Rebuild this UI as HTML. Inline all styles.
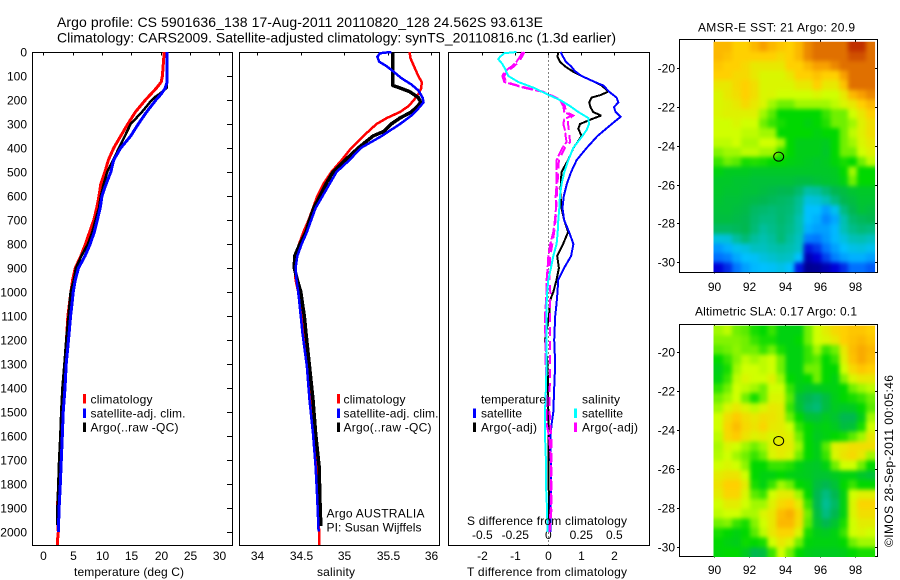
<!DOCTYPE html>
<html>
<head>
<meta charset="utf-8">
<title>Argo profile</title>
<style>
html,body{margin:0;padding:0;background:#fff;}
svg{display:block;}
text{font-family:"Liberation Sans",sans-serif;font-size:12px;fill:#000;}
.ttl{font-size:14px;}
</style>
</head>
<body>
<svg id="fig" xmlns="http://www.w3.org/2000/svg" width="900" height="580" viewBox="0 0 900 580">
<defs>
<filter id="mapSmooth" filterUnits="userSpaceOnUse" x="690" y="0" width="210" height="580" color-interpolation-filters="sRGB"><feGaussianBlur stdDeviation="2"/></filter>
</defs>
<rect width="900" height="580" fill="#fff"/>
<text class="ttl" x="57" y="27" textLength="486" lengthAdjust="spacing">Argo profile: CS 5901636_138 17-Aug-2011 20110820_128 24.562S 93.613E</text>
<text class="ttl" x="57" y="42.5" textLength="559" lengthAdjust="spacing">Climatology: CARS2009. Satellite-adjusted climatology: synTS_20110816.nc (1.3d earlier)</text>
<text x="74" y="576" textLength="110" lengthAdjust="spacing">temperature (deg C)</text>
<text x="317" y="576" textLength="38" lengthAdjust="spacing">salinity</text>
<text x="467" y="576" textLength="160" lengthAdjust="spacing">T difference from climatology</text>
<text x="698" y="31.5" textLength="157" lengthAdjust="spacing">AMSR-E SST: 21  Argo: 20.9</text>
<text x="695" y="315.5" textLength="162" lengthAdjust="spacing">Altimetric SLA: 0.17  Argo: 0.1</text>
<text transform="translate(893,547) rotate(-90)" textLength="172" lengthAdjust="spacing">©IMOS 28-Sep-2011 00:05:46</text>
<g id="layer"></g>
<g>
<rect x="83" y="394" width="3" height="9.5" fill="#ff0000"/>
<rect x="83" y="408.5" width="3" height="9.5" fill="#0000ff"/>
<rect x="83" y="422.5" width="3" height="9.5" fill="#000"/>
<text x="90.5" y="403.5" textLength="62" lengthAdjust="spacing">climatology</text>
<text x="90.5" y="417.5" textLength="95" lengthAdjust="spacing">satellite-adj. clim.</text>
<text x="90.5" y="431.5" textLength="88" lengthAdjust="spacing">Argo(..raw -QC)</text>
</g>
<g>
<rect x="337" y="394" width="3" height="9.5" fill="#ff0000"/>
<rect x="337" y="408.5" width="3" height="9.5" fill="#0000ff"/>
<rect x="337" y="422.5" width="3" height="9.5" fill="#000"/>
<text x="343.5" y="403.5" textLength="62" lengthAdjust="spacing">climatology</text>
<text x="343.5" y="417.5" textLength="95" lengthAdjust="spacing">satellite-adj. clim.</text>
<text x="343.5" y="431.5" textLength="88" lengthAdjust="spacing">Argo(..raw -QC)</text>
<text x="326.5" y="517.5" textLength="98" lengthAdjust="spacing">Argo AUSTRALIA</text>
<text x="326.5" y="531.5" textLength="95" lengthAdjust="spacing">PI: Susan Wijffels</text>
</g>
<g>
<text x="481" y="403.5" textLength="65" lengthAdjust="spacing">temperature</text>
<rect x="473" y="408.5" width="3" height="9.5" fill="#0000ff"/>
<text x="481" y="417.5" textLength="41" lengthAdjust="spacing">satellite</text>
<rect x="473" y="422.5" width="3" height="9.5" fill="#000"/>
<text x="481" y="431.5" textLength="56" lengthAdjust="spacing">Argo(-adj)</text>
<text x="582" y="403.5" textLength="38" lengthAdjust="spacing">salinity</text>
<rect x="574" y="408.5" width="3" height="9.5" fill="#00ffff"/>
<text x="582" y="417.5" textLength="41" lengthAdjust="spacing">satellite</text>
<rect x="574" y="422.5" width="3" height="9.5" fill="#ff00ff"/>
<text x="582" y="431.5" textLength="56" lengthAdjust="spacing">Argo(-adj)</text>
<text x="467" y="525" textLength="160" lengthAdjust="spacing">S difference from climatology</text>
</g>
</svg>
<script>
// ---------- profile data (depth in metres) ----------
const tempClimDepth = [0,100,125,150,200,250,300,350,400,450,500,550,600,650,700,750,800,850,900,950,1000,1100,1500,1600,1700,1850,1900,2000,2040,2055];
const tempClim = [20.6,20.3,20.1,19.3,17.4,15.7,14.4,13.2,12,11.1,10.5,9.8,9.5,9.1,8.6,7.9,7.2,6.4,5.45,5,4.7,4.2,3.2,3.05,2.85,2.5,2.4,2.55,2.4,2.4];
const tempSatDepth = [0,100,125,150,175,200,250,300,350,400,450,500,550,600,650,700,750,800,850,900,950,1000,1050,1100,1200,1300,1400,1500,1600,1700,1800,1900,2000];
const tempSat = [21.1,21.1,21.1,20.8,20.1,19.2,17.6,16.2,14.9,13.2,12,11.5,10.7,10,9.7,9.2,8.7,8,7.1,6,5.45,5.1,4.9,4.66,4.3,3.9,3.7,3.4,3.24,3.07,2.9,2.7,2.55];
const tempArgoDepth = [0,150,175,190,200,250,300,350,400,450,500,550,600,650,700,750,800,850,900,950,1000,1100,1200,1300,1400,1500,1600,1700,1800,1900,1970];
const tempArgo = [21,21,19.8,18.9,18.5,16.8,14.9,13.9,12.9,11.9,10.9,10.3,9.8,9.5,8.9,8.35,7.6,6.5,5.55,5.2,4.66,4.3,3.9,3.6,3.25,3.05,2.9,2.7,2.55,2.4,2.4];

const salClimDepth = [0,25,50,100,125,150,175,200,225,250,275,300,350,400,450,500,550,600,650,700,750,800,850,900,950,1000,1050,1172,1311,1450,1589,1727,1866,1998,2055];
const salClim = [35.75,35.76,35.79,35.85,35.89,35.885,35.85,35.8,35.74,35.64,35.49,35.37,35.22,35.08,34.97,34.85,34.76,34.69,34.64,34.59,34.53,34.48,34.44,34.43,34.44,34.47,34.5,34.53,34.58,34.61,34.645,34.68,34.7,34.71,34.71];
const salSatDepth = [0,5,20,40,60,80,110,135,160,190,210,240,265,300,350,400,450,500,550,600,650,700,750,800,850,900,950,1000,1033,1172,1311,1450,1589,1727,1866,1998];
const salSat = [35.54,35.41,35.38,35.4,35.49,35.56,35.66,35.77,35.85,35.9,35.91,35.84,35.77,35.64,35.43,35.19,35.06,34.91,34.83,34.75,34.67,34.62,34.57,34.51,34.46,34.44,34.45,34.47,34.48,34.52,34.57,34.6,34.64,34.67,34.69,34.705];
const salArgoDepth = [0,130,140,150,165,190,210,230,250,275,300,330,350,400,450,500,550,600,650,700,750,800,850,900,950,1000,1050,1100,1172,1311,1450,1589,1727,1866,1975];
const salArgo = [35.555,35.555,35.56,35.64,35.75,35.85,35.88,35.83,35.77,35.64,35.54,35.46,35.33,35.16,35.01,34.87,34.79,34.72,34.65,34.6,34.56,34.49,34.43,34.425,34.46,34.5,34.52,34.54,34.56,34.6,34.64,34.67,34.71,34.72,34.73];

const dTSatDepth = [0,20,40,60,80,100,125,140,165,190,210,230,250,270,300,350,400,450,500,550,600,650,700,750,800,850,900,950,1000,1050,1100,1200,1300,1400,1500,1550,1600,1800,2000];
const dTSat = [.37,.45,.53,.69,.81,1.01,1.41,1.67,1.84,2.07,2.12,1.99,2.04,2.19,1.92,1.49,1.16,.86,.69,.56,.47,.43,.48,.63,.76,.69,.48,.3,.28,.25,.21,.18,.21,.18,.15,.1,.07,.08,.06];
const dTArgoDepth = [0,20,40,60,80,100,125,140,165,180,190,210,230,250,265,280,300,320,350,400,450,500,550,600,650,700,750,800,850,900,950,1000,1033,1100,1200,1300,1500,2000];
const dTArgo = [.3,.28,.35,.51,.73,1.01,1.41,1.62,1.82,1.57,1.31,1.24,1.28,1.36,1.6,1.31,.96,.91,1.01,.76,.6,.4,.38,.37,.4,.48,.6,.45,.27,.32,.25,.15,.06,.02,-.1,-.02,0,.02];
const dSSatDepth = [0,5,20,30,50,70,100,125,150,175,200,225,250,275,300,325,350,400,450,500,550,600,650,700,750,800,850,900,950,1000,1050,1100,1300,1400,1500,1600,1700,1800,1900,2000];
const dSSat = [-.24,-.333,-.366,-.379,-.348,-.328,-.303,-.227,-.106,-.013,.088,.164,.227,.303,.308,.29,.258,.189,.152,.121,.101,.088,.083,.076,.071,.063,.038,.02,0,-.008,-.013,-.013,-.013,-.018,-.025,-.025,-.018,-.018,-.01,-.005];
const dSArgoDepth = [0,20,40,60,80,100,125,140,150,165,180,200,225,250,265,280,300,325,350,375,400,450,500,550,600,650,700,750,800,850,900,950,1000,1100,1300,1500,1550,1600,1700,1800,1900,2000];
const dSArgoA = [-.197,-.215,-.24,-.278,-.328,-.348,-.333,-.24,-.177,-.05,.013,.088,.114,.121,.177,.121,.114,.126,.131,.139,.106,.063,.063,.063,.056,.058,.05,.038,.015,0,-.005,-.013,-.013,-.025,-.02,-.013,-.013,.005,.02,.02,.02,0];
const dSArgoB = [-.18,-.2,-.22,-.26,-.31,-.335,-.32,-.23,-.16,-.04,.02,.095,.125,.135,.19,.15,.15,.155,.16,.165,.125,.08,.075,.07,.065,.06,.055,.045,.03,.015,.01,.01,.015,.012,.012,.01,.015,.022,.025,.025,.025,.01];

// ---------- tick labels ----------
const depthTicks = [0,100,200,300,400,500,600,700,800,900,1000,1100,1200,1300,1400,1500,1600,1700,1800,1900,2000];
const tempTicks = [0,5,10,15,20,25,30];
const salTicks = [34,34.5,35,35.5,36];
const dTTicks = [-2,-1,0,1,2];
const dSTicks = [-0.5,-0.25,0,0.25,0.5];
const lonTicks = [90,92,94,96,98];
const latTicks = [-20,-22,-24,-26,-28,-30];
const floatLon = [93.613];
const floatLat = [-24.562];

// ---------- map grids, colour index per cell, top row = north ----------
const sstGrid = [
[9.5,9.5,9,9,9.5,10,9.5,9.2,9,9.5,10.5,11,11,11,11,12,12,11],
[9.5,9.3,9,9,9,9,9,8.8,9,9.5,10.5,11,11,11,11,11.5,11.5,11],
[9.2,9,9,8.8,8.5,8.5,8.5,8.5,9,9,9.5,10,10,10.5,11,11,11,11],
[9,9,8.8,8.8,8.5,8.2,8.2,8.2,8.5,9,9,9.3,9,9,10,11,11,11],
[8.5,8.5,8.8,9,8.7,8.2,8.2,8.2,8.2,8.5,8.5,9,8.5,8.5,9.3,11,11,11],
[8.2,8.5,8.7,9,8.7,8.2,8.2,8,8,8,8,8.2,8,8,8.5,9.5,10,10.5],
[8.2,8.3,8.5,8.8,8.5,8.2,7.5,7,7,7.5,7.5,7.5,7.5,7.8,8.2,8.5,9,9.5],
[8.2,8.3,8.3,8.3,8.3,7.5,6.8,6,6,6,6,6,6.5,7,7,8,8.5,9],
[8,8,8.2,8,8,7,6.5,6.2,6,6,5.8,6,6.3,7,7,7.5,8.3,8.7],
[8,8,8,7.8,7.8,7.5,7.5,6,6,6,6,5.8,6,6,7,7.8,8.3,8.7],
[7.8,7.8,8,7.6,7.6,8,8,7.5,6,5.7,5.7,5.7,5.6,6,7,7.5,8.2,8.5],
[7.2,7.5,7.5,7.8,7.8,7.5,7.5,6.5,6,5.7,5.7,5.7,5.5,6,7,7,8,8.3],
[6.5,7,6.8,6.2,6.3,6.2,6,6,5.8,5.7,5.6,5.5,5.6,5.9,6.2,6,7,7.8],
[5.8,5.6,5.6,5.6,5.5,5.5,5.5,5.5,5.5,5.5,5.5,5.5,5.5,5.6,6,7.5,6,6],
[5.5,5.5,5.4,5.4,5.3,5.3,5.3,5.3,5.3,5.2,5.2,5.3,5.4,5.5,5.8,7,6,6],
[5.5,5.4,5.4,5.3,5.3,5.2,5.1,5,5,4.7,4.1,4.2,4.6,5,5.2,5.4,5.5,5.5],
[5.4,5.3,5.3,5.2,5.1,5,4.9,4.8,4.7,4.3,3.4,3.5,3.9,4.5,5,5.2,5.4,5.4],
[5.3,5.3,5.2,5.1,4.8,4.7,4.6,4.7,4.6,4.2,3,3,2.6,3.2,4.5,5,5.3,5.2],
[5.2,5.2,5.1,5,4.7,4.5,4.5,4.7,4.5,4,3,2.8,2.3,2.7,4,4.7,4.9,5],
[4.8,4.8,4.9,5,4.6,4.2,4.4,4.6,4.4,4,2.8,2.6,2.6,2.9,3.9,4.4,4.6,4.5],
[3.4,3.5,4.2,4.6,4.2,4,4.2,4.6,4.2,3.8,2.2,2.1,2.5,2.9,3.4,3.9,4,3.8],
[2.5,2.8,3.2,3.4,3.8,3.8,4,4.1,4,3.7,1.2,1.5,2.1,2.6,3,3.3,3.4,3.2],
[2,2.2,2.7,3,3.1,3.4,3.6,3.8,3.7,3,.6,1,1.6,2.2,2.6,2.8,2.8,2.6],
[1,1.4,2.1,2.6,2.9,3,3.1,3.3,3,1.2,.2,.3,.6,1,1.4,2,2,1.8]
];
const slaGrid = [
[7.5,7.8,7,6.8,6.2,6,6.5,5.8,5.8,5.8,7,8,8.4,8.8,9,9.2,9.2,9],
[7.2,7.2,7.2,7,6.5,6.2,6.2,5.8,5.8,6,7,8,8.2,8.5,9,9.3,9.5,9.2],
[6.8,7,7.3,7,7,6.5,7,6.2,5.8,5.8,6.5,7.5,6.5,7,8.5,9.4,9.8,9.5],
[6,6.5,7.2,7.8,7.5,7.8,8,7,5.8,5.8,6.5,6.8,6,6.5,8.3,9.3,9.8,9.4],
[5.7,6.2,7.5,8,8,7.8,8,7,5.8,5.8,7,7,6,6,8,8.8,9.2,9],
[5.8,6.5,7.8,8.2,8,8,8.3,7.5,6,5.8,6,7,6,5.8,7.2,8.2,8.5,8.5],
[6.4,7,8,7.8,7.5,7,8,8,6.5,5.7,5.5,5.6,5.7,5.8,6,7,7.5,7.8],
[7,7.5,8,7,6.2,7,8.2,8.2,6.8,5.3,5,4.8,5.2,5.7,6,6.2,6.5,7],
[7.5,8.2,8.5,8.2,7.8,8.2,8.5,8.4,6.5,5.4,4.8,4.6,5.2,5.6,5.5,5.6,6,6.8],
[8,8.7,9.1,8.7,8.5,8.7,8.6,8.4,7,6,5.4,5.3,5.6,5.4,5,5,5.7,7.5],
[8,8.9,9.4,8.8,8.6,8.9,8.5,8.4,8,6.5,6,5.7,5.8,5.6,5.2,5.3,6.2,8],
[7.8,8.8,9.1,8.6,8.3,8.4,8.2,8.4,8.3,7,6,5.6,5.8,6,6.2,6.8,7.5,8.5],
[7.6,8.2,8,7.5,7,7.5,8.3,8.5,8.4,7.5,6,5.7,6.8,8.3,8.5,8.7,8.7,8.7],
[7.7,8,7.5,7,6.5,7,8.2,8.4,8.2,7,6,5.7,6.5,8.2,8.6,8.8,8.5,7.5],
[8,8.2,8,7.3,6,6,6.5,6.5,6.3,5.8,5.6,5.5,5.8,7,8,8,7,6],
[8.4,8.6,8.6,8,6,5.8,5.8,6,5.8,5.7,5.6,5.4,5.4,5.6,5.8,5.8,5.5,5.3],
[8.6,9,9,8.4,6.2,5.8,6.5,7.5,7,6,5.8,5.2,5,5.3,6,6.5,6,6],
[8.4,8.9,8.9,8.2,6.8,6.5,8,8.4,8.4,7.5,6,5,4.5,5,5.8,8,8.3,8.3],
[8,8.4,8.4,8,7.5,7.5,8.3,8.8,9,8.4,6.5,5,4.3,4.8,5.8,8.2,8.9,8.9],
[7.8,8,8,7.6,7.6,8.2,8.5,9.4,9.7,8.8,7,5.2,4.5,5,5.8,8.2,8.7,8.7],
[7,7.2,6.5,6.2,7.2,8,8.5,9.5,9.5,8.7,6.8,5.4,5,5.4,6.2,8,8.4,8.4],
[6.2,6,5.8,6,6.8,7.8,8.5,8.9,8.9,8.2,6.2,5.7,5.6,5.8,6.5,8,8.2,8],
[6,5.8,5.7,6.1,6,6.2,8,8.5,8.2,7,5.9,5.8,5.8,5.8,6,7,7.5,7.5],
[5.9,6,6,5.6,5,5.2,6.5,8,7,6,5.7,5.6,5.6,5.6,5.7,6,6.2,6.2]
];

// ---------- helpers ----------
const NS = 'http://www.w3.org/2000/svg';
const svgRoot = document.getElementById('fig');
const layer = document.getElementById('layer');
function mk(tag, attrs, parent){
  const el = document.createElementNS(NS, tag);
  for (const k in attrs) el.setAttribute(k, attrs[k]);
  (parent || layer).appendChild(el);
  return el;
}
function linear(d0, d1, r0, r1){ return v => r0 + (v - d0) * (r1 - r0) / (d1 - d0); }
function fmt(v){ return String(v); }

const TOP = 52.5, BOTTOM = 545.5;
const yDepth = linear(0, 2000, 52, 532);
const xTemp = linear(0, 30, 43.3, 219.3);
const xSal = linear(34, 36, 257.3, 431.3);
const xDT = linear(0, 2, 548.3, 614.3);
const xDS = linear(0, 0.5, 548.3, 614.3);

function box(name, l, r, t, b){
  const el = mk('rect', {x:l, y:t, width:r-l, height:b-t, fill:'none', stroke:'#000', 'stroke-width':1, 'shape-rendering':'crispEdges'});
  
  
}
function tick(name, x1, y1, x2, y2){
  const el = mk('line', {x1:x1, y1:y1, x2:x2, y2:y2, stroke:'#000', 'stroke-width':1, 'shape-rendering':'crispEdges'});
  
  
}
function label(name, txt, x, y, anchor){
  const el = mk('text', {x:x, y:y, 'text-anchor':anchor});
  el.textContent = txt;
  
  
}
function profile(name, xs, ds, xf, color, width, dash){
  const pts = xs.map((v, i) => xf(v).toFixed(1) + ',' + yDepth(ds[i]).toFixed(1)).join(' ');
  const el = mk('polyline', {points:pts, fill:'none', stroke:color, 'stroke-width':width, 'stroke-linejoin':'miter', 'stroke-miterlimit':2, 'shape-rendering':'crispEdges'});
  if (dash) el.setAttribute('stroke-dasharray', dash);
  
  
}

// ---------- panel frames + ticks ----------
box('temperature-panel-frame', 32.5, 232.5, TOP, BOTTOM);
box('salinity-panel-frame', 239.5, 439.5, TOP, BOTTOM);
box('difference-panel-frame', 448.5, 649.5, TOP, BOTTOM);

depthTicks.forEach(d => {
  const y = Math.round(yDepth(d)) + 0.5;
  tick('depth-tick', 227, y, 232, y);
  label('depth-tick-label', fmt(d), 27, y + 4, 'end');
});
tempTicks.forEach(t => {
  const x = Math.round(xTemp(t)) + 0.5;
  tick('temperature-tick', x, TOP, x, TOP + 3);
  label('temperature-tick-label', fmt(t), x, 560, 'middle');
});
salTicks.forEach(s => {
  const x = Math.round(xSal(s)) + 0.5;
  tick('salinity-tick', x, TOP, x, TOP + 3);
  label('salinity-tick-label', fmt(s), x, 560, 'middle');
});
dTTicks.forEach(t => {
  const x = Math.round(xDT(t)) + 0.5;
  tick('t-difference-tick', x, TOP, x, TOP + 3);
  label('t-difference-tick-label', fmt(t), x, 560, 'middle');
});
dSTicks.forEach(s => {
  label('s-difference-tick-label', fmt(s), xDS(s), 539, 'middle');
});

// ---------- zero line ----------
const zeroLine = mk('line', {x1:548.5, y1:TOP, x2:548.5, y2:BOTTOM, stroke:'#000', 'stroke-width':1, 'stroke-dasharray':'1 3', 'shape-rendering':'crispEdges'});



// ---------- profiles ----------
profile('temperature-climatology-line', tempClim, tempClimDepth, xTemp, '#ff0000', 3);
profile('temperature-argo-line', tempArgo, tempArgoDepth, xTemp, '#000', 2.5);
profile('temperature-satellite-line', tempSat, tempSatDepth, xTemp, '#0000ff', 3);

profile('salinity-climatology-line', salClim, salClimDepth, xSal, '#ff0000', 2.5);
profile('salinity-argo-line', salArgo, salArgoDepth, xSal, '#000', 3.5);
profile('salinity-satellite-line', salSat, salSatDepth, xSal, '#0000ff', 2.5);

profile('t-difference-argo-line', dTArgo, dTArgoDepth, xDT, '#000', 2);
profile('t-difference-satellite-line', dTSat, dTSatDepth, xDT, '#0000ff', 2);
profile('s-difference-argo-line', dSArgoA, dSArgoDepth, xDS, '#ff00ff', 2, '12 2');
profile('s-difference-argo-adjusted-line', dSArgoB, dSArgoDepth, xDS, '#ff00ff', 2, '9 5');
profile('s-difference-satellite-line', dSSat, dSSatDepth, xDS, '#00ffff', 2);

// ---------- maps ----------
const colorStops = ['#000080','#0000d8','#0070ff','#00c0ff','#00c0b0','#00b850','#00d800','#70f000','#d0ff00','#ffd000','#f8a000','#e07000','#c03000'];
function rgb(hex){ return [1,3,5].map(i => parseInt(hex.substr(i,2),16)); }
function colorOf(v){
  const i = Math.max(0, Math.min(colorStops.length - 2, Math.floor(v)));
  const f = Math.max(0, Math.min(1, v - i));
  const a = rgb(colorStops[i]), b = rgb(colorStops[i+1]);
  return 'rgb(' + a.map((c,k) => Math.round(c + (b[k]-c)*f)).join(',') + ')';
}
function drawMap(prefix, grid, top, bottom, y20, y30, labelY){
  const xLon = linear(90, 98, 714, 855);
  const yLat = linear(-20, -30, y20, y30);
  box(prefix + '-map-frame', 679.5, 877.5, top, bottom);
  lonTicks.forEach(lon => {
    const x = Math.round(xLon(lon)) + 0.5;
    tick(prefix + '-longitude-tick', x, top, x, top + 5);
    tick(prefix + '-longitude-tick', x, bottom, x, bottom + 1);
    label(prefix + '-longitude-label', fmt(lon), x, labelY, 'middle');
  });
  latTicks.forEach(lat => {
    const y = Math.round(yLat(lat)) + 0.5;
    tick(prefix + '-latitude-tick', 872, y, 877, y);
    tick(prefix + '-latitude-tick', 677, y, 680, y);
    label(prefix + '-latitude-label', fmt(lat), 675, y + 4, 'end');
  });
  const nCols = grid[0].length, nRows = grid.length;
  const lonStep = 9.14 / nCols, latStep = 11.9 / nRows;
  const clipId = prefix + 'MapClip';
  const clip = mk('clipPath', {id:clipId}, svgRoot);
  mk('rect', {x:xLon(90) - 0.5, y:yLat(-18.63), width:xLon(90 + 9.14) - xLon(90) + 0.5, height:yLat(-18.63 - 11.9) - yLat(-18.63)}, clip);
  const outer = mk('g', {'clip-path':'url(#' + clipId + ')'});
  
  
  const inner = mk('g', {filter:'url(#mapSmooth)'}, outer);
  grid.forEach((row, r) => row.forEach((v, c) => {
    let x0 = xLon(90 + c * lonStep), x1 = xLon(90 + (c + 1) * lonStep);
    let y0 = yLat(-18.63 - r * latStep), y1 = yLat(-18.63 - (r + 1) * latStep);
    if (c === 0) x0 -= 10;
    if (c === nCols - 1) x1 += 10;
    if (r === 0) y0 -= 10;
    if (r === nRows - 1) y1 += 10;
    const cell = mk('rect', {x:x0.toFixed(2), y:y0.toFixed(2), width:(x1-x0+0.4).toFixed(2), height:(y1-y0+0.4).toFixed(2), fill:colorOf(v), 'shape-rendering':'crispEdges'}, inner);
    
    
  }));
  const marker = mk('ellipse', {cx:xLon(floatLon[0]) + 1, cy:yLat(floatLat[0]), rx:5, ry:4.5, fill:'none', stroke:'#000', 'stroke-width':1});
  
  
}
drawMap('sst', sstGrid, 39.5, 272.5, 68.3, 262, 291);
drawMap('sla', slaGrid, 324.5, 556.5, 352.3, 546.7, 574);
</script>
</body>
</html>
